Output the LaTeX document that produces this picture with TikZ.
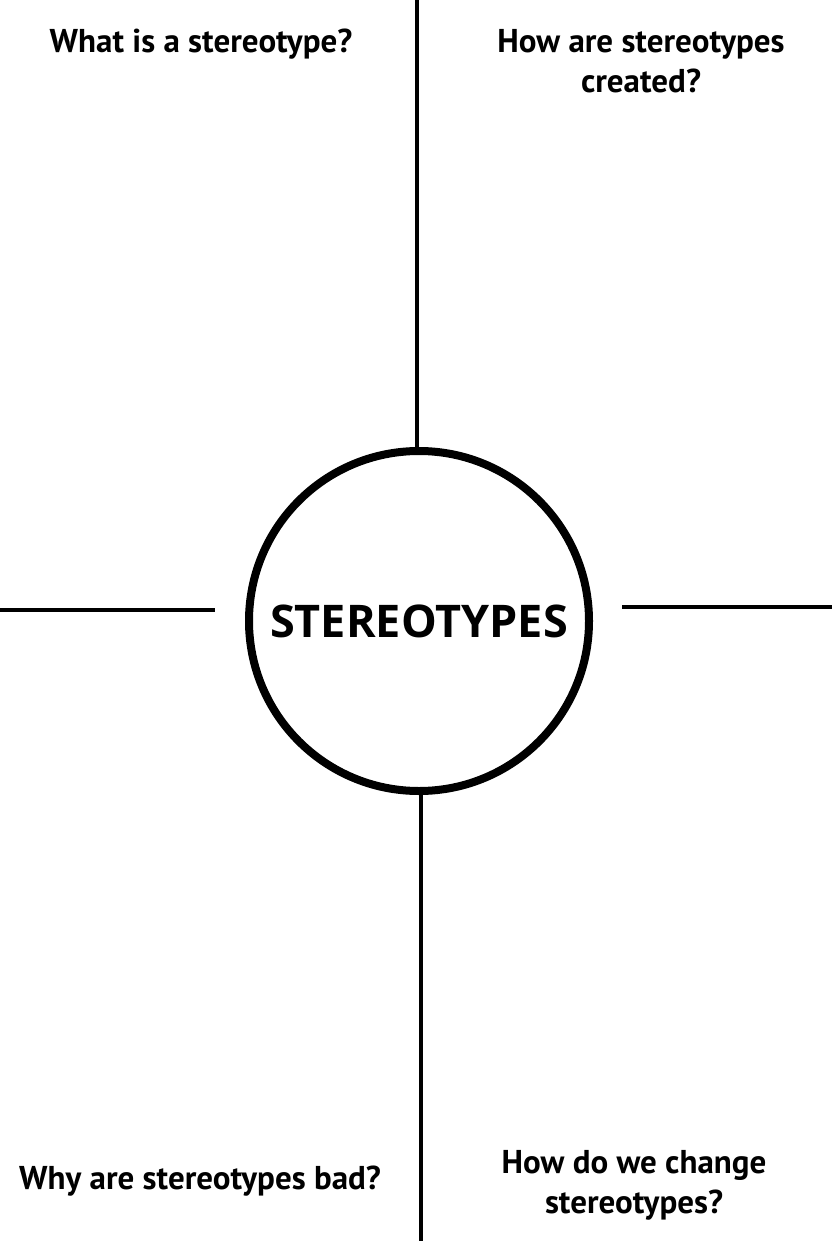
\documentclass[tikz,border=0pt]{standalone}
\usepackage{fontspec}
\setmainfont{Open Sans}
\newfontfamily\qfont{PT Sans}
\usepackage{tikz}
\usetikzlibrary{positioning,calc}

\begin{document}
\begin{tikzpicture}[
	x=1pt, y=-1pt,
	hub/.style={circle, draw, line width=8pt, minimum size=340pt, inner sep=0pt, font=\fontsize{45}{54}\selectfont\bfseries},
	question/.style={align=center, inner sep=0pt, anchor=north, font=\qfont\fontsize{33}{40}\selectfont\bfseries},
	spoke/.style={line width=4pt}
]
\useasboundingbox (0,0) rectangle (832,1241);
\node[hub] (hub) at (419,621) {STEREOTYPES};

\node[question] (what) at (201,29) {What is a stereotype?};
\node[question] (how) at (641,29) {How are stereotypes\\created?};
\node[question] (why) at (200,1166) {Why are stereotypes bad?};
\node[question] (change) at (634,1150) {How do we change\\stereotypes?};

\coordinate (top) at (417,0);
\coordinate (bottom) at (421,1241);
\coordinate (west) at (0,610);
\coordinate (westend) at (215,610);
\coordinate (east) at (832,607);
\coordinate (eastend) at (622,607);

\draw[spoke] (top) -- (top |- hub.north);
\draw[spoke] (bottom |- hub.south) -- (bottom);
\draw[spoke] (west) -- (westend);
\draw[spoke] (eastend) -- (east);
\end{tikzpicture}
\end{document}
